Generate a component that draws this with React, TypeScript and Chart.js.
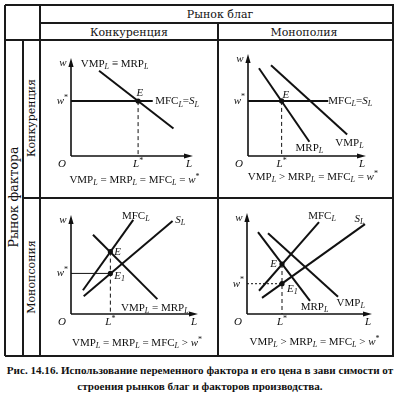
import React, { useEffect, useRef } from "react";
import { Chart, registerables } from "chart.js";
Chart.register(...registerables);

const SERIF = '"Liberation Serif", "Times New Roman", serif';
const HEAD = '"DejaVu Serif", "Liberation Serif", serif';

// ---------- data (axis units 0..10 on both axes) ----------
const AXIS_MIN = 0;
const AXIS_MAX = 10;

// Panel 1: competition / competition
const p1VmpX = [2.3, 8.4];
const p1VmpY = [8.7, 2.8];
const p1MfcX = [0, 6.7];
const p1Wstar = 5.6;
const p1Lstar = 5.5;

// Panel 2: monopoly / competition
const p2MrpX = [0.93, 5.2];
const p2MrpY = [8.6, 1.4];
const p2VmpX = [1.95, 8.4];
const p2VmpY = [8.9, 2.1];
const p2MfcX = [0, 6.8];
const p2Wstar = 5.4;
const p2Lstar = 2.85;

// Panel 3: competition / monopsony
const p3MfcX = [0.94, 4.9];
const p3MfcY = [2.4, 9.5];
const p3SX = [1.0, 8.0];
const p3SY = [1.8, 9.4];
const p3VmpX = [1.73, 6.8];
const p3VmpY = [8.0, 1.5];
const p3Lstar = 3.1;
const p3Estar = 6.3;
const p3Wstar = 4.1;

// Panel 4: monopoly / monopsony
const p4MfcX = [0.96, 5.76];
const p4MfcY = [2.3, 9.1];
const p4SX = [1.2, 9.44];
const p4SY = [1.6, 8.9];
const p4MrpX = [0.88, 5.04];
const p4MrpY = [8.1, 1.3];
const p4VmpX = [1.68, 7.28];
const p4VmpY = [8.0, 1.7];
const p4Lstar = 2.8;
const p4Estar = 4.95;
const p4Wstar = 3.0;

// ---------- helpers ----------
const pts = (xs: number[], ys: number[]) => xs.map((x, i) => ({ x, y: ys[i] }));
const flat = (xs: number[], y: number) => xs.map((x) => ({ x, y }));

type Seg = { t: string; it: boolean; sub: boolean; sup: boolean };
function parseRich(s: string): Seg[] {
  const segs: Seg[] = [];
  let it = false;
  for (let i = 0; i < s.length; i++) {
    const c = s[i];
    if (c === "{") { it = true; continue; }
    if (c === "}") { it = false; continue; }
    if (c === "_") { segs.push({ t: s[i + 1], it: true, sub: true, sup: false }); i++; continue; }
    if (c === "^") { segs.push({ t: s[i + 1], it: false, sub: false, sup: true }); i++; continue; }
    const last = segs[segs.length - 1];
    if (last && !last.sub && !last.sup && last.it === it) last.t += c;
    else segs.push({ t: c, it, sub: false, sup: false });
  }
  return segs;
}
function drawRich(ctx: CanvasRenderingContext2D, s: string, x: number, y: number, size: number, align: string) {
  const segs = parseRich(s);
  const fontFor = (g: Seg) => `${g.it ? "italic " : ""}${g.sub || g.sup ? Math.round(size * 0.72) : size}px ${SERIF}`;
  let w = 0;
  for (const g of segs) { ctx.font = fontFor(g); w += ctx.measureText(g.t).width; }
  let cx = align === "left" ? x : align === "right" ? x - w : x - w / 2;
  ctx.textAlign = "left";
  ctx.textBaseline = "middle";
  ctx.fillStyle = "#111";
  for (const g of segs) {
    ctx.font = fontFor(g);
    const dy = g.sub ? size * 0.3 : g.sup ? -size * 0.32 : 0;
    ctx.fillText(g.t, cx, y + dy);
    cx += ctx.measureText(g.t).width;
  }
}

type Label = { text: string; x: number; y: number; align: string };
type Line = { data: { x: number; y: number }[]; dash?: number[]; width?: number };
type Panel = {
  box: number[];
  area: number[];
  lines: Line[];
  points: { x: number; y: number }[];
  wStar: number;
  lStar: number;
  labels: Label[];
  formula: { text: string; x: number; dy: number };
};

const panels: Panel[] = [
  {
    box: [41, 41, 176, 156],
    area: [71, 156, 193, 58],
    lines: [
      { data: pts(p1VmpX, p1VmpY) },
      { data: flat(p1MfcX, p1Wstar) },
      { data: [{ x: p1Lstar, y: p1Wstar }, { x: p1Lstar, y: 0 }], dash: [4, 3], width: 1 },
    ],
    points: [{ x: p1Lstar, y: p1Wstar }],
    wStar: p1Wstar,
    lStar: p1Lstar,
    labels: [
      { text: "VMP_L ≡ MRP_L", x: 3.57, y: 9.4, align: "center" },
      { text: "{E}", x: 5.65, y: 6.4, align: "center" },
      { text: "MFC_L={S}_L", x: 6.9, y: 5.6, align: "left" },
    ],
    formula: { text: "VMP_L = MRP_L = MFC_L = {w}^*", x: 5.2, dy: 24 },
  },
  {
    box: [219, 41, 173, 156],
    area: [248, 156, 366, 54],
    lines: [
      { data: pts(p2MrpX, p2MrpY) },
      { data: pts(p2VmpX, p2VmpY) },
      { data: flat(p2MfcX, p2Wstar) },
      { data: [{ x: p2Lstar, y: p2Wstar }, { x: p2Lstar, y: 0 }], dash: [4, 3], width: 1 },
    ],
    points: [{ x: p2Lstar, y: p2Wstar }],
    wStar: p2Wstar,
    lStar: p2Lstar,
    labels: [
      { text: "{E}", x: 3.2, y: 6.0, align: "center" },
      { text: "MFC_L={S}_L", x: 6.8, y: 5.4, align: "left" },
      { text: "MRP_L", x: 5.2, y: 0.8, align: "center" },
      { text: "VMP_L", x: 8.6, y: 1.3, align: "center" },
    ],
    formula: { text: "VMP_L > MRP_L = MFC_L = {w}^*", x: 5.5, dy: 21 },
  },
  {
    box: [41, 199, 176, 156],
    area: [71, 314, 198, 215],
    lines: [
      { data: pts(p3MfcX, p3MfcY) },
      { data: pts(p3SX, p3SY) },
      { data: pts(p3VmpX, p3VmpY) },
      { data: [{ x: 0, y: p3Wstar }, { x: p3Lstar, y: p3Wstar }], width: 1 },
      { data: [{ x: p3Lstar, y: p3Estar }, { x: p3Lstar, y: 0 }], dash: [4, 3], width: 1 },
    ],
    points: [{ x: p3Lstar, y: p3Estar }, { x: p3Lstar, y: p3Wstar }],
    wStar: p3Wstar,
    lStar: p3Lstar,
    labels: [
      { text: "{E}", x: 3.4, y: 6.3, align: "left" },
      { text: "{E}_1", x: 3.4, y: 3.85, align: "left" },
      { text: "MFC_L", x: 5.1, y: 9.9, align: "center" },
      { text: "{S}_L", x: 8.2, y: 9.5, align: "left" },
      { text: "VMP_L = MRP_L", x: 6.6, y: 0.6, align: "center" },
    ],
    formula: { text: "VMP_L = MRP_L = MFC_L > {w}^*", x: 5.2, dy: 29 },
  },
  {
    box: [219, 199, 173, 156],
    area: [247, 314, 372, 213],
    lines: [
      { data: pts(p4MfcX, p4MfcY) },
      { data: pts(p4SX, p4SY) },
      { data: pts(p4MrpX, p4MrpY) },
      { data: pts(p4VmpX, p4VmpY) },
      { data: [{ x: 0, y: p4Wstar }, { x: p4Lstar, y: p4Wstar }], dash: [2, 2], width: 1 },
      { data: [{ x: p4Lstar, y: p4Estar }, { x: p4Lstar, y: 0 }], dash: [4, 3], width: 1 },
    ],
    points: [{ x: p4Lstar, y: p4Estar }, { x: p4Lstar, y: p4Wstar }],
    wStar: p4Wstar,
    lStar: p4Lstar,
    labels: [
      { text: "{E}", x: 2.4, y: 4.95, align: "right" },
      { text: "{E}_1", x: 3.2, y: 2.5, align: "left" },
      { text: "MFC_L", x: 6.0, y: 9.7, align: "center" },
      { text: "{S}_L", x: 9.0, y: 9.4, align: "center" },
      { text: "MRP_L", x: 5.4, y: 0.7, align: "center" },
      { text: "VMP_L", x: 8.3, y: 1.1, align: "center" },
    ],
    formula: { text: "VMP_L > MRP_L = MFC_L > {w}^*", x: 5.4, dy: 28 },
  },
];

function decorPlugin(p: Panel) {
  return {
    id: "decor",
    beforeDatasetsDraw(chart: any) {
      const ctx: CanvasRenderingContext2D = chart.ctx;
      const xs = chart.scales.x, ys = chart.scales.y;
      const ox = xs.getPixelForValue(AXIS_MIN), oy = ys.getPixelForValue(AXIS_MIN);
      const tx = xs.getPixelForValue(AXIS_MAX), ty = ys.getPixelForValue(AXIS_MAX);
      ctx.save();
      ctx.strokeStyle = "#111";
      ctx.fillStyle = "#111";
      ctx.lineWidth = 1.6;
      ctx.beginPath();
      ctx.moveTo(ox, oy);
      ctx.lineTo(ox, ty + 4);
      ctx.moveTo(ox, oy);
      ctx.lineTo(tx - 4, oy);
      ctx.stroke();
      ctx.beginPath();
      ctx.moveTo(ox, ty);
      ctx.lineTo(ox - 2.6, ty + 9);
      ctx.lineTo(ox + 2.6, ty + 9);
      ctx.closePath();
      ctx.fill();
      ctx.beginPath();
      ctx.moveTo(tx, oy);
      ctx.lineTo(tx - 9, oy - 2.6);
      ctx.lineTo(tx - 9, oy + 2.6);
      ctx.closePath();
      ctx.fill();
      ctx.restore();
    },
    afterDraw(chart: any) {
      const ctx: CanvasRenderingContext2D = chart.ctx;
      const xs = chart.scales.x, ys = chart.scales.y;
      const X = (v: number) => xs.getPixelForValue(v);
      const Y = (v: number) => ys.getPixelForValue(v);
      const ox = X(AXIS_MIN), oy = Y(AXIS_MIN), tx = X(AXIS_MAX), ty = Y(AXIS_MAX);
      ctx.save();
      const fs = 11;
      drawRich(ctx, "{w}", ox - 8, ty + 5, fs, "center");
      drawRich(ctx, "{w}^*", ox - 3, Y(p.wStar), fs, "right");
      drawRich(ctx, "{O}", ox - 9, oy + 8, fs, "center");
      drawRich(ctx, "{L}^*", X(p.lStar), oy + 8, fs, "center");
      drawRich(ctx, "{L}", tx - 4, oy + 8, fs, "center");
      for (const lb of p.labels) drawRich(ctx, lb.text, X(lb.x), Y(lb.y), fs, lb.align);
      drawRich(ctx, p.formula.text, X(p.formula.x), oy + p.formula.dy, fs, "center");
      ctx.restore();
    },
  };
}

function PanelChart({ p }: { p: Panel }) {
  const ref = useRef<HTMLCanvasElement>(null);
  const [l, t, w, h] = p.box;
  useEffect(() => {
    const [ox, oy, tx, ty] = p.area;
    const datasets: any[] = p.lines.map((ln) => ({
      type: "line",
      data: ln.data,
      borderColor: "#111",
      borderWidth: ln.width ?? 2,
      borderDash: ln.dash ?? [],
      pointRadius: 0,
      fill: false,
      tension: 0,
    }));
    datasets.push({
      type: "scatter",
      data: p.points,
      pointRadius: 2.6,
      pointBackgroundColor: "#111",
      pointBorderColor: "#111",
      pointBorderWidth: 0,
    });
    const chart = new Chart(ref.current as HTMLCanvasElement, {
      type: "line",
      data: { datasets },
      options: {
        responsive: false,
        animation: false,
        devicePixelRatio: 1,
        events: [],
        layout: { padding: { left: ox - l, top: ty - t, right: l + w - tx, bottom: t + h - oy } },
        scales: {
          x: { type: "linear", min: AXIS_MIN, max: AXIS_MAX, display: false },
          y: { type: "linear", min: AXIS_MIN, max: AXIS_MAX, display: false },
        },
        plugins: { legend: { display: false }, tooltip: { enabled: false } },
      } as any,
      plugins: [decorPlugin(p)],
    });
    return () => chart.destroy();
  }, []);
  return (
    <canvas
      ref={ref}
      width={w}
      height={h}
      style={{ position: "absolute", left: l, top: t, width: w, height: h }}
    />
  );
}

const LC = "#1a1a1a";
const HL = (x1: number, x2: number, y: number, k: string) => (
  <div key={k} style={{ position: "absolute", left: x1, top: y - 0.75, width: x2 - x1, height: 1.5, background: LC }} />
);
const VL = (x: number, y1: number, y2: number, k: string) => (
  <div key={k} style={{ position: "absolute", left: x - 0.75, top: y1, width: 1.5, height: y2 - y1, background: LC }} />
);
const Txt = (text: string, x: number, y: number, size: number, k: string, font: string, rot = false, bold = false) => (
  <div
    key={k}
    style={{
      position: "absolute",
      left: x,
      top: y,
      transform: `translate(-50%, -50%)${rot ? " rotate(-90deg)" : ""}`,
      whiteSpace: "nowrap",
      fontFamily: font,
      fontSize: size,
      fontWeight: bold ? "bold" : "normal",
      color: "#111",
      lineHeight: 1,
    }}
  >
    {text}
  </div>
);

export default function App() {
  return (
    <div style={{ position: "absolute", left: 0, top: 0, width: 400, height: 394, background: "#fff", overflow: "hidden" }}>
      {HL(5, 394, 5, "h0")}
      {HL(40, 394, 23, "h1")}
      {HL(5, 394, 40, "h2")}
      {HL(23, 394, 198, "h3")}
      {HL(5, 394, 356, "h4")}
      {VL(5, 5, 356, "v0")}
      {VL(23, 40, 356, "v1")}
      {VL(40, 5, 356, "v2")}
      {VL(218, 23, 356, "v3")}
      {VL(393, 5, 356, "v4")}
      {Txt("Рынок благ", 220, 14, 11, "t0", HEAD)}
      {Txt("Конкуренция", 129, 32, 11, "t1", HEAD)}
      {Txt("Монополия", 304, 32, 11, "t2", HEAD)}
      {Txt("Рынок фактора", 14, 197, 12.5, "t3", HEAD, true)}
      {Txt("Конкуренция", 31, 118, 11, "t4", HEAD, true)}
      {Txt("Монопсония", 31, 277, 11, "t5", HEAD, true)}
      {panels.map((p, i) => (
        <PanelChart key={i} p={p} />
      ))}
      {Txt("Рис. 14.16. Использование переменного фактора и его цена в зави симости от", 200, 371, 11.1, "c0", SERIF, false, true)}
      {Txt("строения рынков благ и факторов производства.", 200, 387, 11.1, "c1", SERIF, false, true)}
    </div>
  );
}
